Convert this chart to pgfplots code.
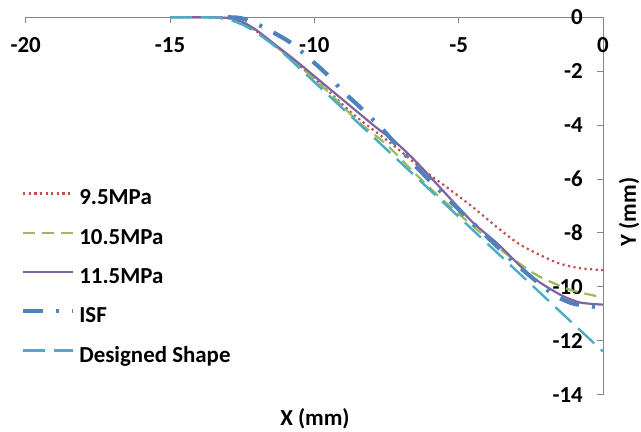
\documentclass[border=0pt]{standalone}
\usepackage{pgfplots}
\pgfplotsset{compat=1.18}
\usepackage{fontspec}
\setmainfont{Carlito}

\definecolor{cRed}{HTML}{C0504D}
\definecolor{cGreen}{HTML}{9BBB59}
\definecolor{cPurple}{HTML}{8064A2}
\definecolor{cBlue}{HTML}{4F81BD}
\definecolor{cCyan}{HTML}{4BACC6}
\definecolor{cAxis}{HTML}{868686}

\newcommand{\chartfont}{\fontsize{23}{27}\selectfont\bfseries}

\begin{document}
\begin{tikzpicture}
\path[use as bounding box] (0,0) rectangle (641bp,432bp);
\begin{axis}[
  at={(25.7bp,37.3bp)}, anchor=south west,
  width=577.3bp, height=377.4bp, scale only axis,
  xmin=-20, xmax=0, ymin=-14, ymax=0,
  axis x line*=top, axis y line*=right,
  axis line style={cAxis, line width=1bp},
  every tick/.style={cAxis, line width=1bp},
  tick align=inside, major tick length=6bp,
  xtick={-20,-15,-10,-5,0},
  ytick={-14,-12,-10,-8,-6,-4,-2,0},
  /pgf/number format/assume math mode=true,
  tick label style={font=\chartfont, inner sep=0pt},
  xticklabel style={anchor=base, yshift=-35.4bp},
  yticklabel style={anchor=base east, xshift=-20bp, yshift=-7.3bp},
  xlabel={X (mm)}, ylabel={Y (mm)},
  label style={font=\chartfont, inner sep=0pt},
  xlabel style={at={(axis description cs:0.501,-0.0803)}, anchor=base},
  ylabel style={at={(axis description cs:1.057,0.484)}, anchor=base},
  clip=false,
  legend cell align=left,
  legend style={draw=none, fill=none, inner sep=0pt,
    at={(axis description cs:-0.0082,0.5432)}, anchor=north west,
    font=\chartfont, row sep=19.3bp, column sep=4bp,
    nodes={inner sep=0pt, text height=15bp, text depth=5bp}},
  legend image code/.code={\draw[#1] (0bp,6.4bp) -- (50bp,6.4bp);},
  every axis plot/.append style={smooth, tension=0.4},
]
% 9.5 MPa
\addplot[cRed, line width=2.2bp, dash pattern=on 2.2bp off 3.4bp] coordinates {
  (-15,0) (-13.6,0) (-13.2,-0.01) (-12.8,-0.06) (-12.4,-0.25) (-12,-0.52) (-11.4,-1.02)
  (-10.6,-1.72) (-9.6,-2.65) (-8.65,-3.6) (-7.27,-4.74) (-6.3,-5.6)
  (-5.42,-6.3) (-4.5,-7.05) (-3.69,-7.77) (-2.85,-8.45) (-1.65,-9.08)
  (-0.85,-9.3) (0,-9.38)};
\addlegendentry{9.5MPa}
% 10.5 MPa
\addplot[cGreen, line width=2.2bp, dash pattern=on 12bp off 7bp] coordinates {
  (-15,0) (-13.6,0) (-13.2,-0.01) (-12.8,-0.06) (-12.4,-0.25) (-12,-0.52) (-11.4,-1.02)
  (-10.6,-1.72) (-9.6,-2.68) (-8.5,-3.85) (-7.5,-4.72) (-6.6,-5.7)
  (-5.65,-6.68) (-4.5,-7.75) (-3.46,-8.69) (-2.3,-9.56) (-1.14,-10.11)
  (0,-10.39)};
\addlegendentry{10.5MPa}
% 11.5 MPa
\addplot[cPurple, line width=2.2bp] coordinates {
  (-15,0) (-13.6,0) (-13.2,-0.01) (-12.8,-0.05) (-12.4,-0.22) (-12,-0.48) (-11.4,-0.98)
  (-10.6,-1.65) (-9.7,-2.45) (-8.8,-3.25) (-7.9,-4.05) (-7.2,-4.62)
  (-6.6,-5.22) (-6.0,-5.9) (-5.4,-6.6) (-4.5,-7.62) (-3.6,-8.45)
  (-2.5,-9.6) (-1.5,-10.28) (-0.8,-10.58) (0,-10.66)};
\addlegendentry{11.5MPa}
% ISF
\addplot[cBlue, line width=4.2bp, dash pattern=on 20bp off 13bp on 3bp off 13bp] coordinates {
  (-13.0,0) (-12.7,-0.01) (-12.4,-0.07) (-11.7,-0.4) (-10.85,-0.92) (-10.2,-1.5)
  (-9.57,-2.11) (-9.0,-2.76) (-8.4,-3.35) (-7.6,-4.2) (-6.6,-5.4)
  (-5.5,-6.6) (-4.26,-7.89) (-3.05,-9.12) (-1.78,-10.24) (-1.1,-10.6)
  (-0.5,-10.72) (0,-10.75)};
\addlegendentry{ISF}
% Designed shape
\addplot[cCyan, line width=2.4bp, dash pattern=on 22bp off 9bp] coordinates {
  (-15,0) (-13.6,0) (-13.2,-0.04) (-12.8,-0.14) (-12.4,-0.32) (-12.0,-0.57)
  (-11.6,-0.88) (-11.2,-1.21) (-10.8,-1.6) (-6,-6.4) (0,-12.4)};
\addlegendentry{Designed Shape}
\end{axis}
\end{tikzpicture}
\end{document}
